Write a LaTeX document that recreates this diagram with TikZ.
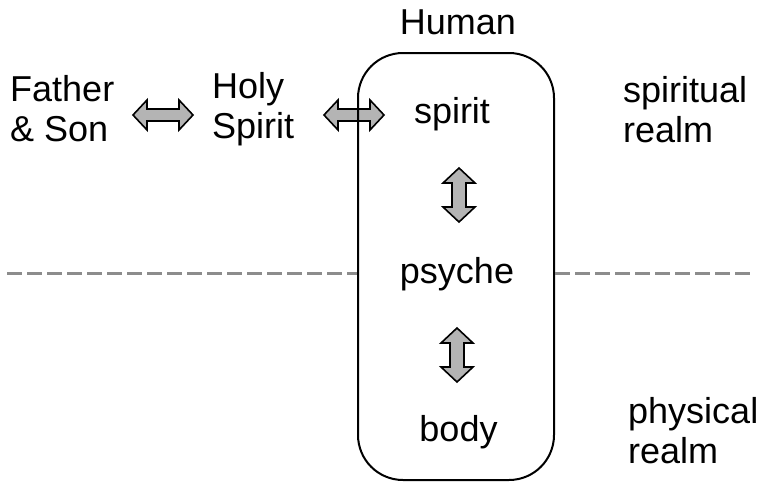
\documentclass[tikz,border=0pt]{standalone}
\usepackage{fontspec}
\setmainfont{Liberation Sans}
\usetikzlibrary{calc}
\definecolor{arrowgray}{HTML}{B4B4B4}
\definecolor{dashgray}{HTML}{8C8C8C}
% #1 centre, #2 rotation, #3 length, #4 head width, #5 shaft width, #6 head length
\newcommand\blockdbl[6]{%
  \draw[blockarrow, shift={(#1)}, rotate=#2]
    (-#3/2,0) -- (-#3/2+#6,#4/2) -- (-#3/2+#6,#5/2) -- (#3/2-#6,#5/2) -- (#3/2-#6,#4/2)
    -- (#3/2,0) -- (#3/2-#6,-#4/2) -- (#3/2-#6,-#5/2) -- (-#3/2+#6,-#5/2) -- (-#3/2+#6,-#4/2) -- cycle;}
\begin{document}
\begin{tikzpicture}[x=1pt,y=-1pt,
  lbl/.style={font=\fontsize{36}{40}\selectfont, inner sep=0pt, align=left},
  blockarrow/.style={draw=black, line width=1.6pt, fill=arrowgray, line join=miter},
  dashline/.style={draw=dashgray, line width=3pt, dash pattern=on 15pt off 5pt},
  humanbox/.style={draw=black, line width=2pt, rounded corners=45pt, inner sep=0pt,
    minimum width=196pt, minimum height=427pt}
  ]
\useasboundingbox (0,0) rectangle (762,482);
% texts (base = baseline of last line)
\node[lbl, anchor=base west] (fs) at (10,141) {Father\\\& Son};
\node[lbl, anchor=base west] (hs) at (212,138) {Holy\\Spirit};
\node[lbl, anchor=base] (spirit) at (452,123) {spirit};
\node[lbl, anchor=base] (psyche) at (457,283) {psyche};
\node[lbl, anchor=base] (body) at (458.5,441) {body};
\node[lbl, anchor=base] (human) at (458,34) {Human};
\node[lbl, anchor=base west] (sr) at (623,142) {spiritual\\realm};
\node[lbl, anchor=base west] (pr) at (628,463) {physical\\realm};
% block arrows
\coordinate (a1) at (163,115);
\coordinate (a2) at (354,115);
\coordinate (a3) at (459,195);
\coordinate (a4) at (457,355);
\blockdbl{a1}{0}{60}{30}{12}{14}
\blockdbl{a2}{0}{60}{30}{12}{14}
\blockdbl{a3}{90}{54}{32}{14}{15}
\blockdbl{a4}{90}{54}{32}{14}{15}
% box
\node[humanbox] (box) at (456,266.5) {};
% dashed lines
\coordinate (dl) at (7,273);
\coordinate (dr) at (754,273);
\draw[dashline] (dl) -- (dl -| box.west);
\draw[dashline] (box.east |- dr) -- (dr);
\end{tikzpicture}
\end{document}
